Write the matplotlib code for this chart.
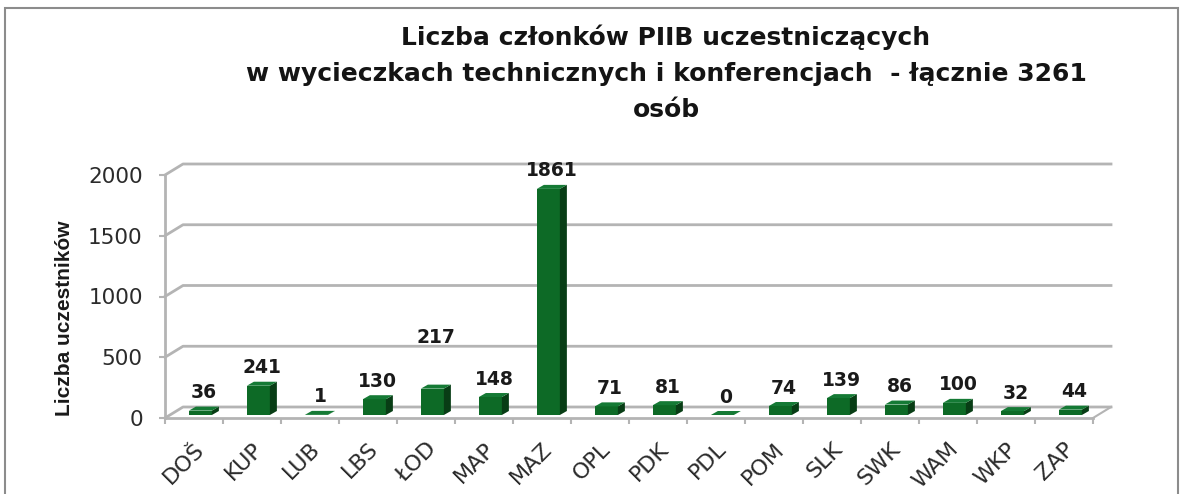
import numpy as np
import matplotlib
matplotlib.use("Agg")
import matplotlib.pyplot as plt
from matplotlib.patches import Polygon, Rectangle

# data
regions = ["DOŠ", "KUP", "LUB", "LBS", "ŁOD", "MAP", "MAZ", "OPL",
           "PDK", "PDL", "POM", "SLK", "SWK", "WAM", "WKP", "ZAP"]
participants = [36, 241, 1, 130, 217, 148, 1861, 71,
                81, 0, 74, 139, 86, 100, 32, 44]
yticks = [0, 500, 1000, 1500, 2000]

title_lines = ["Liczba członków PIIB uczestniczących",
               "w wycieczkach technicznych i konferencjach  - łącznie 3261",
               "osób"]

W, H = 1182, 494
fig = plt.figure(figsize=(W / 100, H / 100), dpi=100)

# axes placed so that the front floor runs 165..1093 px, 0..2000 -> 418..175 px
px_per_unit = (418 - 175) / 2000.0
ytop = 2300
ax = fig.add_axes([165 / W, (H - 418) / H, 928 / W, ytop * px_per_unit / H])
n = len(regions)
ax.set_xlim(-0.5, n - 0.5)
ax.set_ylim(0, ytop)
cat_px = 928 / n

# pseudo 3-d geometry (in data units)
dx, dy = 18 / cat_px, 11 / px_per_unit          # back wall offset
bw = 23 / cat_px                                # bar front width
bdx, bdy = 7 / cat_px, 4 / px_per_unit          # bar depth
sx, sy = 0.11, 3 / px_per_unit                  # bar shift into the depth

grid_c = "#b4b4b4"
for g in yticks:
    ax.plot([-0.5, -0.5 + dx, n - 0.5 + dx], [g, g + dy, g + dy],
            color=grid_c, lw=2, clip_on=False, zorder=1)
ax.plot([n - 0.5, n - 0.5 + dx], [0, dy], color=grid_c, lw=1.5,
        clip_on=False, zorder=1)

front_c, side_c, top_c = "#0d6a26", "#083d15", "#157a35"
x = np.arange(n)
vals = np.array(participants, dtype=float)
ax.bar(x + sx, vals, width=bw, bottom=sy, color=front_c, zorder=3)
for xi, v in zip(x + sx, vals):
    x0, x1 = xi - bw / 2, xi + bw / 2
    b, t = sy, sy + v
    ax.add_patch(Polygon([(x1, b), (x1 + bdx, b + bdy), (x1 + bdx, t + bdy), (x1, t)],
                         closed=True, facecolor=side_c, edgecolor="none", zorder=3))
    ax.add_patch(Polygon([(x0, t), (x0 + bdx, t + bdy), (x1 + bdx, t + bdy), (x1, t)],
                         closed=True, facecolor=top_c, edgecolor="none", zorder=4))

# value labels
nudge = {4: 24}
for i, v in enumerate(vals):
    ax.annotate(f"{int(v)}", (i + sx + bdx / 2, v + sy + bdy),
                xytext=(0, 10 + nudge.get(i, 0)), textcoords="offset points",
                ha="center", va="center", fontsize=13.5, fontweight="bold",
                family="DejaVu Sans", color="#1a1a1a", zorder=5)

for s in ["top", "right"]:
    ax.spines[s].set_visible(False)
ax.spines["left"].set_bounds(0, 2000)
ax.spines["left"].set_color(grid_c)
ax.spines["left"].set_linewidth(2)
ax.spines["bottom"].set_color(grid_c)
ax.spines["bottom"].set_linewidth(2)

ax.set_yticks(yticks)
ax.set_yticklabels([str(t) for t in yticks], family="DejaVu Sans",
                   fontsize=15.5, color="#2b2b2b")
ax.tick_params(axis="y", length=4, width=1.5, color=grid_c, pad=12)

ax.set_xticks(x)
ax.set_xticklabels(regions, rotation=45, ha="right", rotation_mode="anchor",
                   family="DejaVu Sans", fontsize=16, color="#2b2b2b")
ax.tick_params(axis="x", length=0, pad=15)
ax.set_xticks(np.arange(n + 1) - 0.5, minor=True)
ax.tick_params(axis="x", which="minor", length=4.5, width=1.5, color=grid_c)

ax.set_ylabel("Liczba uczestników", family="Liberation Sans", fontweight="bold",
              fontsize=15, color="#1a1a1a")
ax.yaxis.set_label_coords((65 - 165) / 928, (418 - 318) / (ytop * px_per_unit))
ax.yaxis.label.set_va("center")

for line, base in zip(title_lines, [45, 81, 117]):
    fig.text(666 / W, 1 - base / H, line, ha="center", va="baseline",
             family="DejaVu Sans", fontweight="bold", fontsize=18, color="#141414")

# outer frame
fig.patches.append(Rectangle((5 / W, -0.05), 1173 / W, 1 - 8 / H + 0.05,
                             transform=fig.transFigure, fill=False,
                             edgecolor="#8c8c8c", lw=1.5))

fig.savefig("out.png", dpi=100)
